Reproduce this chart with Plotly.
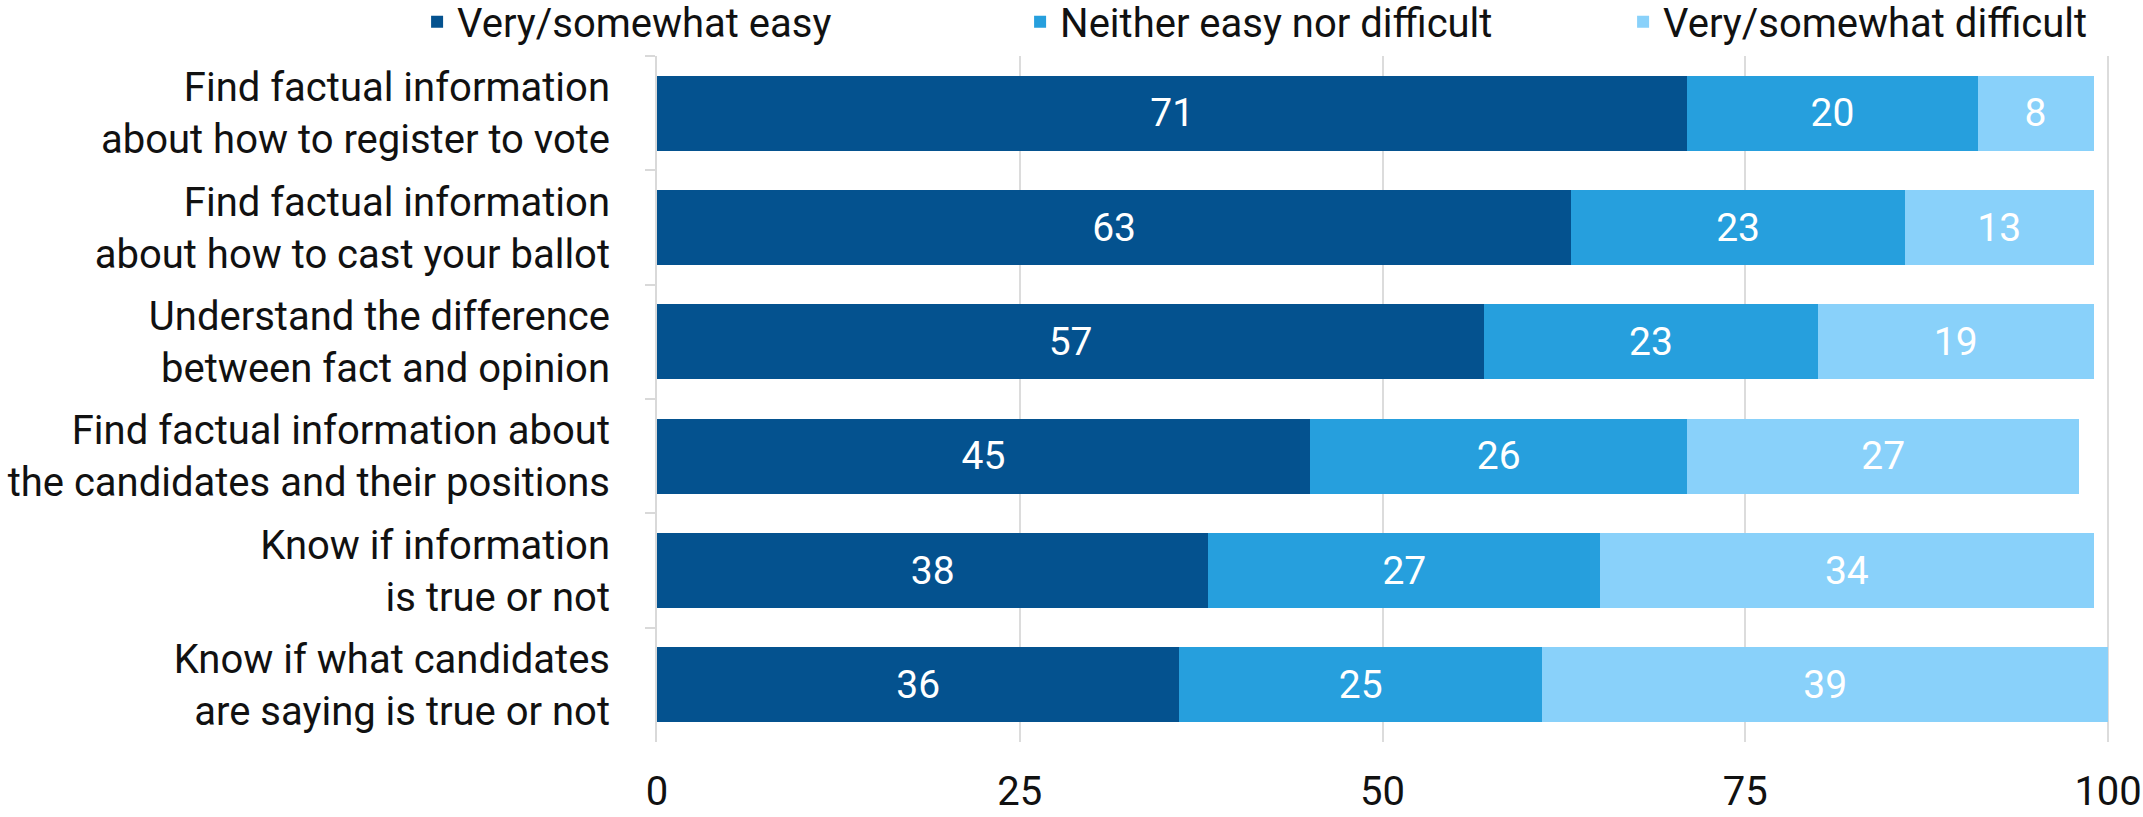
import plotly.graph_objects as go

categories = [
    "Find factual information<br>about how to register to vote",
    "Find factual information<br>about how to cast your ballot",
    "Understand the difference<br>between fact and opinion",
    "Find factual information about<br>the candidates and their positions",
    "Know if information<br>is true or not",
    "Know if what candidates<br>are saying is true or not",
]
series_names = ["Very/somewhat easy", "Neither easy nor difficult", "Very/somewhat difficult"]
easy = [71, 63, 57, 45, 38, 36]
neither = [20, 23, 23, 26, 27, 25]
difficult = [8, 13, 19, 27, 34, 39]
x_ticks = [0, 25, 50, 75, 100]

colors = ["#04528f", "#269fdd", "#89d1fa"]
FONT = "Roboto, Liberation Sans, sans-serif"

fig = go.Figure()
for name, vals, col in zip(series_names, [easy, neither, difficult], colors):
    fig.add_trace(go.Bar(
        y=categories, x=vals, name=name, orientation="h",
        marker=dict(color=col, line=dict(width=0)),
        text=vals, texttemplate="%{x}", textposition="inside",
        insidetextanchor="middle",
        textfont=dict(color="white", size=39, family=FONT),
    ))

fig.update_layout(
    barmode="stack",
    bargap=0.345,
    width=2143, height=817,
    margin=dict(l=657, r=32, t=56, b=75, autoexpand=False),
    paper_bgcolor="white", plot_bgcolor="white",
    font=dict(family=FONT, size=40, color="#111111"),
    showlegend=True,
    legend=dict(
        orientation="h", x=-0.165, xanchor="left", y=1.05, yanchor="middle",
        font=dict(size=40, family=FONT), traceorder="normal",
        entrywidth=558, entrywidthmode="pixels", bgcolor="rgba(0,0,0,0)",
    ),
    uniformtext=dict(mode="show", minsize=10),
)
fig.update_xaxes(
    range=[0, 100.2], tickvals=x_ticks, ticktext=[str(v) for v in x_ticks],
    showgrid=True, gridcolor="#dcdcdc", gridwidth=2, zeroline=False,
    showline=False, ticks="", ticklabelstandoff=22,
    tickfont=dict(size=40, family=FONT, color="#111111"),
)
fig.update_yaxes(
    autorange="reversed", showline=True, linecolor="#d9d9d9", linewidth=2,
    ticks="outside", tickson="boundaries", ticklen=10, tickcolor="#d9d9d9",
    tickwidth=2, ticklabelstandoff=37, showgrid=False,
    tickfont=dict(size=40, family=FONT, color="#111111"),
)

fig.write_html(
    "out.html",
    config={"displayModeBar": False},
    post_script="document.body.style.margin='0';document.body.style.overflow='hidden';",
)
